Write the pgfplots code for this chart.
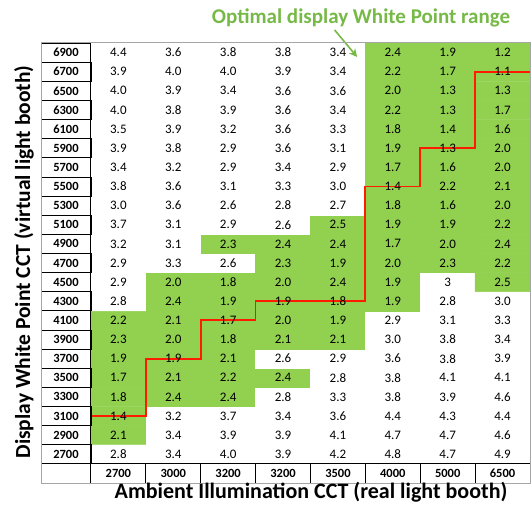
\documentclass[border=0pt]{standalone}
\usepackage{fontspec}
\setmainfont{Carlito}
\usepackage{pgfplots}
\pgfplotsset{compat=1.18}
\usepackage{pgfplotstable}
\usetikzlibrary{arrows.meta}
\definecolor{cellgreen}{HTML}{92D050}
\definecolor{titlegreen}{HTML}{76B947}
\definecolor{bordergray}{HTML}{A6A6A6}
\definecolor{stepred}{HTML}{FF1A00}

\pgfplotstableread{
x y g v
0.5 0.5 0 2.8
1.5 0.5 0 3.4
2.5 0.5 0 4.0
3.5 0.5 0 3.9
4.5 0.5 0 4.2
5.5 0.5 0 4.8
6.5 0.5 0 4.7
7.5 0.5 0 4.9
0.5 1.5 1 2.1
1.5 1.5 0 3.4
2.5 1.5 0 3.9
3.5 1.5 0 3.9
4.5 1.5 0 4.1
5.5 1.5 0 4.7
6.5 1.5 0 4.7
7.5 1.5 0 4.6
0.5 2.5 1 1.4
1.5 2.5 0 3.2
2.5 2.5 0 3.7
3.5 2.5 0 3.4
4.5 2.5 0 3.6
5.5 2.5 0 4.4
6.5 2.5 0 4.3
7.5 2.5 0 4.4
0.5 3.5 1 1.8
1.5 3.5 1 2.4
2.5 3.5 1 2.4
3.5 3.5 0 2.8
4.5 3.5 0 3.3
5.5 3.5 0 3.8
6.5 3.5 0 3.9
7.5 3.5 0 4.6
0.5 4.5 1 1.7
1.5 4.5 1 2.1
2.5 4.5 1 2.2
3.5 4.5 1 2.4
4.5 4.5 0 2.8
5.5 4.5 0 3.8
6.5 4.5 0 4.1
7.5 4.5 0 4.1
0.5 5.5 1 1.9
1.5 5.5 1 1.9
2.5 5.5 1 2.1
3.5 5.5 0 2.6
4.5 5.5 0 2.9
5.5 5.5 0 3.6
6.5 5.5 0 3.8
7.5 5.5 0 3.9
0.5 6.5 1 2.3
1.5 6.5 1 2.0
2.5 6.5 1 1.8
3.5 6.5 1 2.1
4.5 6.5 1 2.1
5.5 6.5 0 3.0
6.5 6.5 0 3.8
7.5 6.5 0 3.4
0.5 7.5 1 2.2
1.5 7.5 1 2.1
2.5 7.5 1 1.7
3.5 7.5 1 2.0
4.5 7.5 1 1.9
5.5 7.5 0 2.9
6.5 7.5 0 3.1
7.5 7.5 0 3.3
0.5 8.5 0 2.8
1.5 8.5 1 2.4
2.5 8.5 1 1.9
3.5 8.5 1 1.9
4.5 8.5 1 1.8
5.5 8.5 1 1.9
6.5 8.5 0 2.8
7.5 8.5 0 3.0
0.5 9.5 0 2.9
1.5 9.5 1 2.0
2.5 9.5 1 1.8
3.5 9.5 1 2.0
4.5 9.5 1 2.4
5.5 9.5 1 1.9
6.5 9.5 0 3
7.5 9.5 1 2.5
0.5 10.5 0 2.9
1.5 10.5 0 3.3
2.5 10.5 0 2.6
3.5 10.5 1 2.3
4.5 10.5 1 1.9
5.5 10.5 1 2.0
6.5 10.5 1 2.3
7.5 10.5 1 2.2
0.5 11.5 0 3.2
1.5 11.5 0 3.1
2.5 11.5 1 2.3
3.5 11.5 1 2.4
4.5 11.5 1 2.4
5.5 11.5 1 1.7
6.5 11.5 1 2.0
7.5 11.5 1 2.4
0.5 12.5 0 3.7
1.5 12.5 0 3.1
2.5 12.5 0 2.9
3.5 12.5 0 2.6
4.5 12.5 1 2.5
5.5 12.5 1 1.9
6.5 12.5 1 1.9
7.5 12.5 1 2.2
0.5 13.5 0 3.0
1.5 13.5 0 3.6
2.5 13.5 0 2.6
3.5 13.5 0 2.8
4.5 13.5 0 2.7
5.5 13.5 1 1.8
6.5 13.5 1 1.6
7.5 13.5 1 2.0
0.5 14.5 0 3.8
1.5 14.5 0 3.6
2.5 14.5 0 3.1
3.5 14.5 0 3.3
4.5 14.5 0 3.0
5.5 14.5 1 1.4
6.5 14.5 1 2.2
7.5 14.5 1 2.1
0.5 15.5 0 3.4
1.5 15.5 0 3.2
2.5 15.5 0 2.9
3.5 15.5 0 3.4
4.5 15.5 0 2.9
5.5 15.5 1 1.7
6.5 15.5 1 1.6
7.5 15.5 1 2.0
0.5 16.5 0 3.9
1.5 16.5 0 3.8
2.5 16.5 0 2.9
3.5 16.5 0 3.6
4.5 16.5 0 3.1
5.5 16.5 1 1.9
6.5 16.5 1 1.3
7.5 16.5 1 2.0
0.5 17.5 0 3.5
1.5 17.5 0 3.9
2.5 17.5 0 3.2
3.5 17.5 0 3.6
4.5 17.5 0 3.3
5.5 17.5 1 1.8
6.5 17.5 1 1.4
7.5 17.5 1 1.6
0.5 18.5 0 4.0
1.5 18.5 0 3.8
2.5 18.5 0 3.9
3.5 18.5 0 3.6
4.5 18.5 0 3.4
5.5 18.5 1 2.2
6.5 18.5 1 1.3
7.5 18.5 1 1.7
0.5 19.5 0 4.0
1.5 19.5 0 3.9
2.5 19.5 0 3.4
3.5 19.5 0 3.6
4.5 19.5 0 3.6
5.5 19.5 1 2.0
6.5 19.5 1 1.3
7.5 19.5 1 1.3
0.5 20.5 0 3.9
1.5 20.5 0 4.0
2.5 20.5 0 4.0
3.5 20.5 0 3.9
4.5 20.5 0 3.4
5.5 20.5 1 2.2
6.5 20.5 1 1.7
7.5 20.5 1 1.1
0.5 21.5 0 4.4
1.5 21.5 0 3.6
2.5 21.5 0 3.8
3.5 21.5 0 3.8
4.5 21.5 0 3.4
5.5 21.5 1 2.4
6.5 21.5 1 1.9
7.5 21.5 1 1.2
}\cells

\pgfplotstableread{
x y l
-0.455 0.5 2700
-0.455 1.5 2900
-0.455 2.5 3100
-0.455 3.5 3300
-0.455 4.5 3500
-0.455 5.5 3700
-0.455 6.5 3900
-0.455 7.5 4100
-0.455 8.5 4300
-0.455 9.5 4500
-0.455 10.5 4700
-0.455 11.5 4900
-0.455 12.5 5100
-0.455 13.5 5300
-0.455 14.5 5500
-0.455 15.5 5700
-0.455 16.5 5900
-0.455 17.5 6100
-0.455 18.5 6300
-0.455 19.5 6500
-0.455 20.5 6700
-0.455 21.5 6900
}\rowlabels

\pgfplotstableread{
x y l
0.5 -0.5 2700
1.5 -0.5 3000
2.5 -0.5 3200
3.5 -0.5 3200
4.5 -0.5 3500
5.5 -0.5 4000
6.5 -0.5 5000
7.5 -0.5 6500
}\collabels

\begin{document}
\begin{tikzpicture}
\useasboundingbox (0,0) rectangle (532pt,511pt);
\begin{axis}[
  at={(41pt,28pt)}, anchor=south west,
  scale only axis, width=489pt, height=440pt,
  xmin=-0.91, xmax=8, ymin=-1, ymax=22,
  axis line style={bordergray, line width=1pt},
  axis on top,
  ticks=none,
  clip=false,
  colormap={gw}{color=(white) color=(cellgreen)},
  point meta min=0, point meta max=1,
]
\addplot[matrix plot*, mesh/cols=8, point meta=explicit] table[x=x,y=y,meta=g]{\cells};

\addplot[stepred, line width=1.8pt, const plot mark left, mark=none]
  coordinates {(0,2.5)(1,5.5)(2,7.5)(3,8.5)(4,8.5)(5,14.5)(6,16.5)(7,20.5)(8,20.5)};

\addplot[only marks, mark=none, point meta=explicit symbolic, nodes near coords,
  every node near coord/.append style={anchor=center, inner sep=0pt, text=black, font=\fontsize{13}{15}\selectfont}]
  table[x=x,y=y,meta=v]{\cells};

\addplot[only marks, mark=none, point meta=explicit symbolic, nodes near coords,
  every node near coord/.append style={anchor=center, inner sep=0pt, text=black, font=\bfseries\fontsize{12.5}{15}\selectfont}]
  table[x=x,y=y,meta=l]{\rowlabels};

\addplot[only marks, mark=none, point meta=explicit symbolic, nodes near coords,
  every node near coord/.append style={anchor=center, inner sep=0pt, text=black, font=\bfseries\fontsize{12.5}{15}\selectfont}]
  table[x=x,y=y,meta=l]{\collabels};

% grid lines of label column (zigzag)
\addplot[black, line width=0.8pt, mark=none] coordinates {
(-0.91,0)(0,0)(0,1)(-0.91,1)(-0.91,2)(0,2)(0,3)(-0.91,3)(-0.91,4)(0,4)(0,5)(-0.91,5)
(-0.91,6)(0,6)(0,7)(-0.91,7)(-0.91,8)(0,8)(0,9)(-0.91,9)(-0.91,10)(0,10)(0,11)(-0.91,11)
(-0.91,12)(0,12)(0,13)(-0.91,13)(-0.91,14)(0,14)(0,15)(-0.91,15)(-0.91,16)(0,16)(0,17)(-0.91,17)
(-0.91,18)(0,18)(0,19)(-0.91,19)(-0.91,20)(0,20)(0,21)(-0.91,21)(-0.91,22)(0,22)};
\addplot[black, line width=0.9pt, mark=none] coordinates {(-0.91,0)(8,0)};
\addplot[black, line width=0.9pt, mark=none] coordinates {(0,-1)(0,22)};
\addplot[black, line width=0.8pt, mark=none, unbounded coords=jump] coordinates {
(1,-1)(1,0)(nan,nan)(2,-1)(2,0)(nan,nan)(3,-1)(3,0)(nan,nan)(4,-1)(4,0)(nan,nan)
(5,-1)(5,0)(nan,nan)(6,-1)(6,0)(nan,nan)(7,-1)(7,0)};

\addplot[titlegreen, line width=1.6pt, mark=none, -{Stealth[length=8pt,width=8pt]}]
  coordinates {(4.44,22.68)(4.85,21.27)};
\end{axis}
\node[font=\bfseries\fontsize{21}{24}\selectfont, text=titlegreen] at (361pt,493pt) {Optimal display White Point range};
\node[font=\bfseries\fontsize{22}{25}\selectfont] at (311pt,19pt) {Ambient Illumination CCT (real light booth)};
\node[rotate=90, font=\bfseries\fontsize{21.5}{24}\selectfont] at (24pt,249pt) {Display White Point CCT (virtual light booth)};
\end{tikzpicture}
\end{document}
